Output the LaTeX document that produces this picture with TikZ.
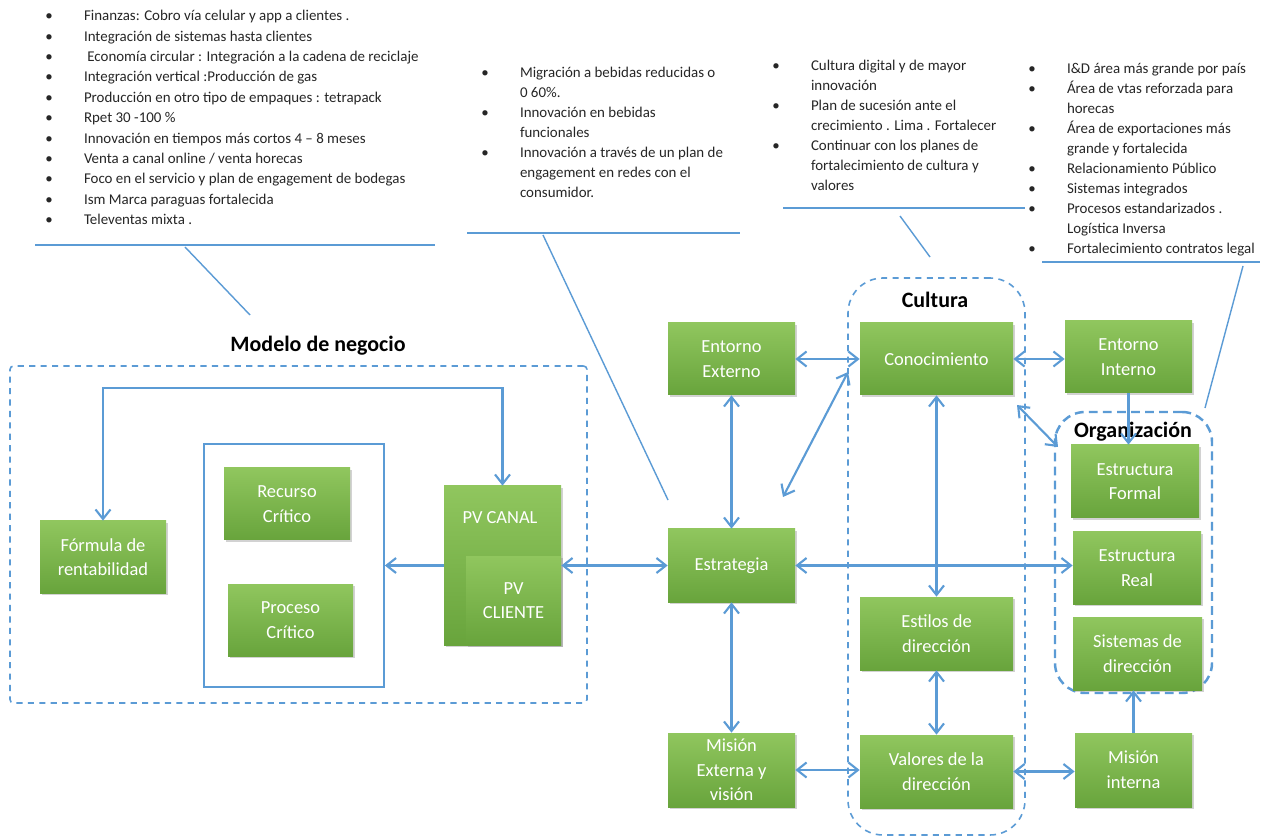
\documentclass[tikz,border=0pt]{standalone}
\usepackage{fontspec}
\setmainfont{Carlito}
\usetikzlibrary{arrows.meta,shadows}
\definecolor{grnTop}{RGB}{144,198,94}
\definecolor{grnBot}{RGB}{104,164,60}
\definecolor{lnBlue}{RGB}{91,155,213}
\newcommand{\itm}{\makebox[22pt][l]{\textbullet}}
\newcommand{\cnt}{\hspace*{22pt}}
\tikzset{
	lbl/.style={text=white, align=center, font=\fontsize{10.5}{14}\selectfont},
	blk/.style 2 args={rectangle, lbl, top color=grnTop, bottom color=grnBot, draw=none,
		minimum width=#1*0.02cm, minimum height=#2*0.02cm, inner sep=2pt,
		drop shadow={opacity=0.35, shadow xshift=1.2pt, shadow yshift=-1.2pt}},
	grp/.style 2 args={rectangle, draw=lnBlue, dash pattern=on 3.5pt off 3pt, line width=0.9pt,
		minimum width=#1*0.02cm, minimum height=#2*0.02cm},
	ttl/.style={font=\bfseries\fontsize{12.5}{15}\selectfont},
	notes/.style={anchor=north west, inner sep=0pt, align=left, text=black!85,
		font=\fontsize{8.5}{11.4}\selectfont},
	lnk/.style={draw=lnBlue, line width=1.2pt},
	thin/.style={draw=lnBlue, line width=0.8pt},
	dbl/.style={lnk, {Straight Barb[length=1.9mm,width=3mm]}-{Straight Barb[length=1.9mm,width=3mm]}},
	sgl/.style={lnk, -{Straight Barb[length=1.9mm,width=3mm]}},
}
\begin{document}
\begin{tikzpicture}[x=0.02cm, y=-0.02cm]
	\useasboundingbox[fill=white] (0,0) rectangle (1271,837);

	\node (model) at (298.5, 534.5)	[grp={577}{337}, rounded corners=2pt]	{};
	\node (cult)  at (936.5, 556.5)	[grp={177}{557}, rounded corners=0.7cm]	{};
	\node (orga)  at (1133.5, 552.5)	[grp={157}{281}, rounded corners=0.6cm, line width=1.4pt, dash pattern=on 5pt off 3pt]	{};
	\node (crit)  at (294, 565.5)	[rectangle, draw=lnBlue, line width=1pt, minimum width=180*0.02cm, minimum height=243*0.02cm]	{};

	\node (tmod)  at (318, 346)	[ttl]	{Modelo de negocio};
	\node (tcul)  at (935, 300)	[ttl]	{Cultura};
	\node (torg)  at (1133, 432)	[ttl]	{Organización};

	\node (formula) at (103, 557)	[blk={126}{72}]	{Fórmula de\\rentabilidad};
	\node (recurso) at (287, 504)	[blk={126}{72}]	{Recurso\\Crítico};
	\node (proceso) at (290.5, 620)	[blk={125}{72}]	{Proceso\\Crítico};
	\node (canal)   at (502.5, 565.5)	[blk={117}{159}, label={[lbl, xshift=-0.05cm, yshift=-0.88cm]north:PV CANAL}]	{};
	\node (client)  at (513.5, 600.5)	[blk={95}{89}]	{PV\\CLIENTE};

	\node (entext)  at (731.5, 359)	[blk={127}{72}]	{Entorno\\Externo};
	\node (estrat)  at (731.5, 565.5)	[blk={127}{73}]	{Estrategia};
	\node (misext)  at (731.5, 770)	[blk={127}{74}]	{Misión\\Externa y\\visión};
	\node (conoc)   at (936.5, 359)	[blk={153}{72}]	{Conocimiento};
	\node (estilo)  at (936.5, 633.5)	[blk={153}{73}]	{Estilos de\\dirección};
	\node (valor)   at (936.5, 771.5)	[blk={153}{73}]	{Valores de la\\dirección};
	\node (entint)  at (1128.5, 357)	[blk={127}{72}]	{Entorno\\Interno};
	\node (estfor)  at (1135, 481.5)	[blk={128}{73}]	{Estructura\\Formal};
	\node (estreal) at (1137, 568)	[blk={128}{72}]	{Estructura\\Real};
	\node (sisdir)  at (1137.5, 653.5)	[blk={129}{73}]	{Sistemas de\\dirección};
	\node (misint)  at (1133.5, 770)	[blk={117}{74}]	{Misión\\interna};

	\node (nmod) at (45, 10)	[notes, font=\fontsize{8.5}{11.6}\selectfont]	{\itm Finanzas: Cobro vía celular y app a clientes .\\
		\itm Integración de sistemas hasta clientes\\
		\itm \ Economía circular : Integración a la cadena de reciclaje\\
		\itm Integración vertical :Producción de gas\\
		\itm Producción en otro tipo de empaques : tetrapack\\
		\itm Rpet 30 -100 \%\\
		\itm Innovación en tiempos más cortos 4 – 8 meses\\
		\itm Venta a canal online / venta horecas\\
		\itm Foco en el servicio y plan de engagement de bodegas\\
		\itm Ism Marca paraguas fortalecida\\
		\itm Televentas mixta .};
	\node (nest) at (481, 67)	[notes]	{\itm Migración a bebidas reducidas o\\
		\cnt 0 60\%.\\
		\itm Innovación en bebidas\\
		\cnt funcionales\\
		\itm Innovación a través de un plan de\\
		\cnt engagement en redes con el\\
		\cnt consumidor.};
	\node (ncul) at (772, 60)	[notes]	{\itm Cultura digital y de mayor\\
		\cnt innovación\\
		\itm Plan de sucesión ante el\\
		\cnt crecimiento . Lima . Fortalecer\\
		\itm Continuar con los planes de\\
		\cnt fortalecimiento de cultura y\\
		\cnt valores};
	\node (norg) at (1028, 63)	[notes]	{\itm I\&D área más grande por país\\
		\itm Área de vtas reforzada para\\
		\cnt horecas\\
		\itm Área de exportaciones más\\
		\cnt grande y fortalecida\\
		\itm Relacionamiento Público\\
		\itm Sistemas integrados\\
		\itm Procesos estandarizados .\\
		\cnt Logística Inversa\\
		\itm Fortalecimiento contratos legal};

	\coordinate (uA1) at (35, 245);	\coordinate (uA2) at (435, 245);
	\coordinate (pA1) at (185, 247);	\coordinate (pA2) at (250, 315);
	\coordinate (uB1) at (467, 233);	\coordinate (uB2) at (740, 233);
	\coordinate (pB1) at (543, 235);	\coordinate (pB2) at (668, 500);
	\coordinate (uC1) at (783, 208);	\coordinate (uC2) at (1025, 208);
	\coordinate (pC1) at (900, 216);	\coordinate (pC2) at (930, 257);
	\coordinate (uD1) at (1042, 262);	\coordinate (uD2) at (1260, 262);
	\coordinate (pD1) at (1243, 266);	\coordinate (pD2) at (1205, 408);
	\draw[thin] (uA1) -- (uA2);	\draw[thin] (pA1) -- (pA2);
	\draw[thin] (uB1) -- (uB2);	\draw[thin] (pB1) -- (pB2);
	\draw[thin] (uC1) -- (uC2);	\draw[thin] (pC1) -- (pC2);
	\draw[thin] (uD1) -- (uD2);	\draw[thin] (pD1) -- (pD2);

	\coordinate (top) at (0, 388);
	\draw[dbl] (formula.north) -- (formula.north |- top) -| (canal.north);
	\draw[sgl] (canal.west) -- (crit.east);
	\draw[dbl] (client.east |- estrat.west) -- (estrat.west);
	\draw[dbl] (entext.east) -- (conoc.west);
	\draw[dbl] (conoc.east) -- (conoc.east -| entint.west);
	\draw[dbl] (entext.south) -- (estrat.north);
	\draw[dbl] (estrat.south) -- (misext.north);
	\draw[dbl] (misext.east) -- (misext.east -| valor.west);
	\draw[dbl] (valor.east) -- (valor.east -| misint.west);
	\draw[dbl] (conoc.south) -- (estilo.north);
	\draw[dbl] (estilo.south) -- (valor.north);
	\draw[dbl] (estrat.east) -- (estrat.east -| estreal.west);
	\draw[sgl] (entint.south) -- (entint.south |- estfor.north);
	\draw[sgl] (misint.north) -- (misint.north |- sisdir.south);

	\coordinate (dA1) at (783, 497);	\coordinate (dA2) at (848, 372);
	\coordinate (dB1) at (1017, 405);	\coordinate (dB2) at (1058, 447);
	\draw[dbl] (dA1) -- (dA2);
	\draw[dbl] (dB1) -- (dB2);
\end{tikzpicture}
\end{document}
